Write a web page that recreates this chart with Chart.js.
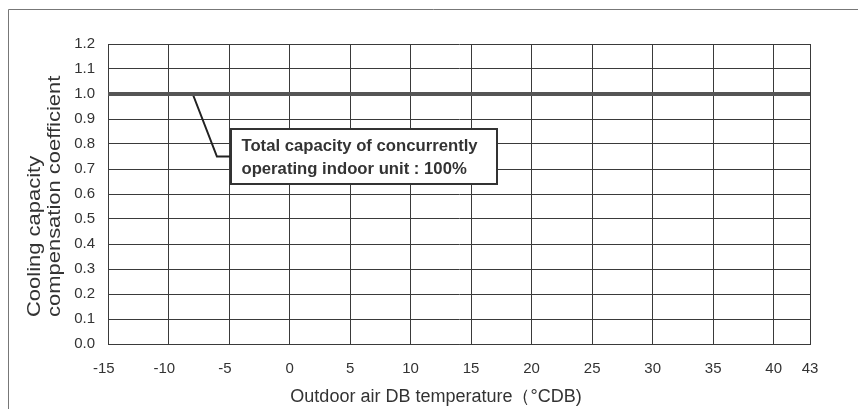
<!DOCTYPE html>
<html>
<head>
<meta charset="utf-8">
<script src="https://cdn.jsdelivr.net/npm/chart.js@4"></script>
<style>
  html, body { margin: 0; padding: 0; background: #fff; }
  canvas { display: block; }
</style>
</head>
<body>
<canvas id="chart" width="858" height="409"></canvas>
<script>
// x ticks (outdoor air DB temperature, °CDB)
const xTicks = [-15, -10, -5, 0, 5, 10, 15, 20, 25, 30, 35, 40, 43];
// y ticks (compensation coefficient)
const yTicks = [0, 0.1, 0.2, 0.3, 0.4, 0.5, 0.6, 0.7, 0.8, 0.9, 1.0, 1.1, 1.2];

// the coefficient curve: flat 1.0 over the whole range
const tempValues = [-15, 43];
const coefValues = [1.0, 1.0];

// callout leader line: from the curve down to the label box
const leaderX = [-8, -6, -4.8];
const leaderY = [1.0, 0.75, 0.75];

const calloutLines = ['Total capacity of concurrently', 'operating indoor unit : 100%'];
const xTitle = 'Outdoor air DB temperature（°CDB)';
const yTitle = ['Cooling capacity', 'compensation coefficient'];

const FONT = '"Liberation Sans", Arial, sans-serif';
const INK = '#333';

// frame, axis titles and the callout box
const decor = {
  id: 'decor',
  beforeDraw(chart) {
    const ctx = chart.ctx;
    ctx.save();
    ctx.strokeStyle = '#777';
    ctx.lineWidth = 1;
    ctx.beginPath();
    ctx.moveTo(8.5, 409);
    ctx.lineTo(8.5, 9.5);
    ctx.lineTo(858, 9.5);
    ctx.stroke();
    ctx.restore();
  },
  afterDatasetsDraw(chart) {
    const { ctx, scales: { x, y } } = chart;
    ctx.save();

    // callout box, anchored in data space
    const l = x.getPixelForValue(-4.8), r = x.getPixelForValue(17.2);
    const t = y.getPixelForValue(0.86), b = y.getPixelForValue(0.64);
    ctx.fillStyle = '#fff';
    ctx.fillRect(l, t, r - l, b - t);
    ctx.strokeStyle = '#333';
    ctx.lineWidth = 2;
    ctx.strokeRect(Math.round(l), Math.round(t), Math.round(r - l), Math.round(b - t));
    ctx.fillStyle = INK;
    ctx.font = 'bold 16.7px ' + FONT;
    ctx.textBaseline = 'alphabetic';
    ctx.textAlign = 'left';
    calloutLines.forEach((s, i) => ctx.fillText(s, l + 10, t + 22 + i * 23));

    // x title
    ctx.font = '18px ' + FONT;
    ctx.textAlign = 'center';
    ctx.fillText(xTitle, 436, 402);

    // y title, two lines, left aligned after rotation (stretched along the text)
    ctx.textAlign = 'left';
    yTitle.forEach((s, i) => {
      ctx.save();
      ctx.translate(40 + i * 19.5, 317);
      ctx.rotate(-Math.PI / 2);
      ctx.scale(1.22, 1);
      ctx.fillText(s, 0, 0);
      ctx.restore();
    });
    ctx.restore();
  }
};

new Chart(document.getElementById('chart'), {
  type: 'line',
  data: {
    datasets: [
      {
        data: tempValues.map((v, i) => ({ x: v, y: coefValues[i] })),
        borderColor: '#555',
        borderWidth: 4,
        pointRadius: 0,
        tension: 0,
      },
      {
        data: leaderX.map((v, i) => ({ x: v, y: leaderY[i] })),
        borderColor: '#222',
        borderWidth: 2,
        pointRadius: 0,
        tension: 0,
      },
    ],
  },
  options: {
    responsive: false,
    animation: false,
    layout: { padding: { top: 44, right: 48, left: 0, bottom: 0 } },
    plugins: { legend: { display: false }, tooltip: { enabled: false } },
    scales: {
      x: {
        type: 'linear',
        min: -15,
        max: 43,
        afterBuildTicks: s => { s.ticks = xTicks.map(v => ({ value: v })); },
        afterFit: s => { s.height = 65; },
        ticks: {
          color: INK, font: { family: FONT, size: 15 }, padding: 16, maxRotation: 0, autoSkip: false,
          // negative labels sit a little left of their gridline in the original
          callback: v => (v < 0 ? v + '  ' : String(v)),
        },
        grid: { color: '#3a3a3a', lineWidth: 1, drawTicks: false },
        border: { color: '#3a3a3a' },
      },
      y: {
        min: 0,
        max: 1.2,
        afterBuildTicks: s => { s.ticks = yTicks.map(v => ({ value: v })); },
        afterFit: s => { s.width = 108; },
        ticks: { color: INK, font: { family: FONT, size: 15 }, padding: 13, callback: v => v.toFixed(1) },
        grid: { color: '#3a3a3a', lineWidth: 1, drawTicks: false },
        border: { color: '#3a3a3a' },
      },
    },
  },
  plugins: [decor],
});
</script>
</body>
</html>
